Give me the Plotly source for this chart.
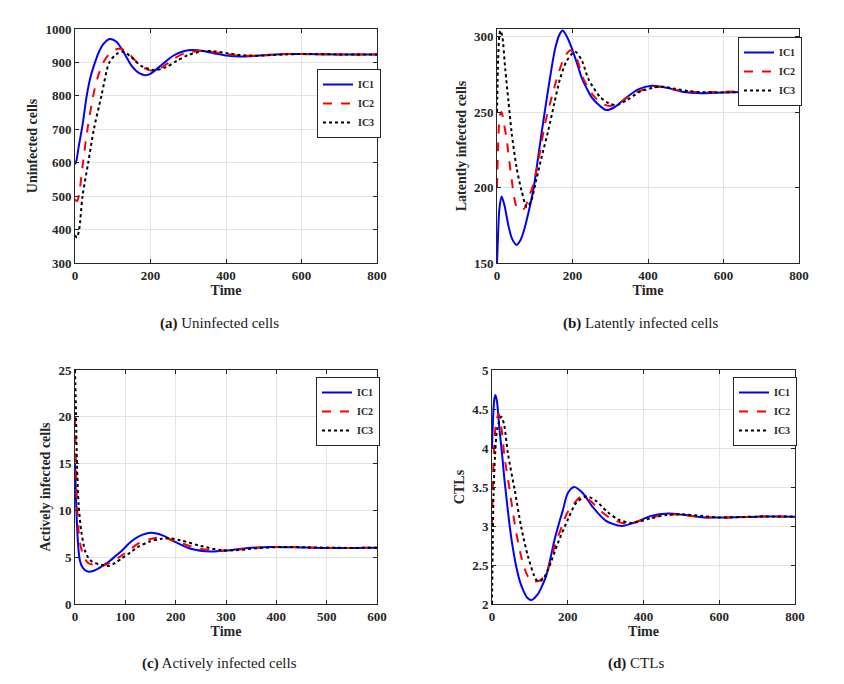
import plotly.graph_objects as go

# (a) uninfected cells
t_unf_1 = [0, 4, 9, 20, 31, 42, 53, 62, 75, 92, 110, 130, 150, 170, 186, 200, 230, 260, 290, 312, 340, 370, 400, 440, 480, 520, 560, 600, 700, 800]
v_unf_1 = [595, 607, 643, 713, 800, 860, 900, 928, 955, 970, 962, 928, 890, 868, 862, 866, 893, 920, 934, 937, 934, 927, 921, 918, 920, 923, 925, 925, 924, 924]
t_unf_2 = [0, 5, 10, 20, 33, 50, 60, 75, 95, 115, 135, 160, 185, 205, 230, 260, 290, 330, 360, 400, 440, 480, 520, 560, 600, 700, 800]
v_unf_2 = [490, 485, 500, 590, 700, 810, 855, 900, 930, 941, 935, 905, 882, 875, 885, 910, 927, 934, 932, 925, 920, 920, 923, 925, 925, 924, 924]
t_unf_3 = [0, 5, 11, 20, 35, 50, 70, 91, 110, 128, 150, 175, 210, 240, 270, 300, 340, 370, 400, 440, 480, 520, 560, 600, 700, 800]
v_unf_3 = [383, 376, 400, 500, 600, 700, 800, 900, 925, 932, 915, 890, 877, 885, 905, 922, 934, 933, 928, 922, 920, 922, 924, 925, 924, 924]

# (b) latently infected cells
t_lat_1 = [0, 3, 6, 12, 20, 30, 40, 52, 62, 72, 83, 96, 109, 118, 127, 135, 140, 154, 165, 174, 185, 197, 211, 224, 237, 250, 264, 289, 310, 335, 374, 410, 450, 490, 540, 600, 700, 800]
v_lat_1 = [150, 170, 185, 194, 188, 175, 166, 162, 165, 172, 183, 198, 220, 236, 251, 264, 272, 292, 301, 304, 300, 293, 283, 273, 266, 260, 256, 251.3, 253, 258, 265, 267.4, 266, 263.5, 262.5, 263, 263.5, 263.5]
t_lat_2 = [0, 4, 8, 12, 18, 26, 39, 52, 62, 72, 85, 96, 105, 114, 127, 145, 162, 180, 195, 210, 229, 255, 275, 299, 330, 361, 423, 480, 540, 600, 700, 800]
v_lat_2 = [200, 235, 248, 250, 243, 231, 205, 187, 185, 186, 194, 202, 212, 224, 242, 260, 275, 287, 291, 286, 272, 261, 256, 254, 257, 262.3, 266.8, 264.5, 263, 263.5, 263.5, 263.5]
t_lat_3 = [0, 3, 6, 9, 14, 22, 30, 39, 52, 65, 79, 90, 104, 118, 136, 152, 167, 185, 207, 225, 242, 273, 295, 317, 345, 379, 432, 470, 520, 580, 700, 800]
v_lat_3 = [250, 285, 300, 304, 300, 278, 258, 236, 213, 198, 187, 191, 205, 220, 238, 256, 272, 284, 290, 284, 272, 260, 256, 254.6, 258, 263.5, 266.8, 265.5, 263.5, 263, 263.5, 263.5]

# (c) actively infected cells
t_act_1 = [0, 2, 4, 7.3, 10, 14, 20, 27, 37, 47, 60, 67, 80, 93, 110, 126, 152, 175, 200, 230, 270, 300, 340, 390, 440, 500, 600]
v_act_1 = [15, 11.3, 8.4, 5.6, 4.6, 4.0, 3.6, 3.45, 3.55, 3.81, 4.27, 4.52, 5.1, 5.7, 6.6, 7.2, 7.6, 7.3, 6.6, 5.9, 5.6, 5.7, 5.95, 6.1, 6.05, 5.98, 6.0]
t_act_2 = [0, 2, 4, 7.3, 10, 14, 20, 27, 40, 54, 70, 93, 110, 126, 150, 172, 200, 240, 280, 320, 360, 400, 450, 500, 600]
v_act_2 = [20, 14.8, 10.6, 7.7, 6.5, 5.6, 4.8, 4.35, 4.15, 4.06, 4.4, 5.2, 5.85, 6.48, 6.95, 7.1, 6.7, 6.0, 5.7, 5.8, 6.0, 6.1, 6.05, 6.0, 6.0]
t_act_3 = [0, 2, 4, 7.3, 12.6, 20.5, 27, 34, 54, 67, 80, 93, 110, 126, 150, 170, 185, 210, 250, 290, 320, 360, 410, 460, 520, 600]
v_act_3 = [25, 20.2, 14.85, 10.6, 7.7, 5.6, 4.9, 4.52, 4.17, 4.06, 4.4, 4.88, 5.5, 6.12, 6.7, 6.95, 7.05, 6.8, 6.2, 5.75, 5.75, 5.95, 6.1, 6.05, 6.0, 6.0]

# (d) CTLs
t_ctl_1 = [0, 3, 6, 9, 13, 20, 27, 33, 40, 47, 55, 64, 73, 82, 93, 104, 120, 133, 143, 154, 165, 176, 187, 200, 217, 240, 265, 300, 342, 380, 420, 465, 510, 560, 620, 700, 800]
v_ctl_1 = [4.0, 4.4, 4.62, 4.68, 4.6, 4.23, 3.9, 3.59, 3.28, 2.99, 2.72, 2.48, 2.3, 2.18, 2.08, 2.05, 2.12, 2.24, 2.36, 2.58, 2.82, 3.02, 3.2, 3.42, 3.5, 3.42, 3.25, 3.07, 3.0, 3.05, 3.13, 3.16, 3.14, 3.11, 3.11, 3.12, 3.12]
t_ctl_2 = [0, 2, 5, 10, 17.6, 25, 33, 46.6, 60, 77, 95, 108, 125, 143, 155, 165, 187, 200, 237, 260, 290, 320, 355, 400, 440, 475, 520, 570, 640, 700, 800]
v_ctl_2 = [3.0, 3.5, 3.95, 4.3, 4.44, 4.25, 3.89, 3.46, 3.03, 2.61, 2.35, 2.29, 2.3, 2.39, 2.55, 2.73, 3.03, 3.18, 3.38, 3.32, 3.18, 3.08, 3.03, 3.08, 3.13, 3.15, 3.13, 3.11, 3.11, 3.12, 3.12]
t_ctl_3 = [0, 2, 4, 8, 14, 24.6, 32, 42, 60, 77, 95, 117, 126, 136, 148, 174, 200, 223, 250, 275, 305, 335, 370, 420, 460, 500, 550, 600, 700, 800]
v_ctl_3 = [2.0, 2.8, 3.4, 3.9, 4.25, 4.4, 4.3, 3.93, 3.46, 2.99, 2.61, 2.31, 2.29, 2.33, 2.44, 2.78, 3.08, 3.3, 3.38, 3.32, 3.18, 3.08, 3.04, 3.1, 3.14, 3.15, 3.13, 3.11, 3.12, 3.12]

ic_names = ["IC1", "IC2", "IC3"]
ic_colors = ["#0000ff", "#ff0000", "#000000"]
ic_dash = ["solid", "dash", "dot"]

# page body has an 8px margin, so the figure is a bit smaller than the window
W, H, PAD = 828, 668, 8


def fx(px):
    return (px - PAD) / W


def fy(px):
    return 1 - (px - PAD) / H


panels = [
    dict(series=[(t_unf_1, v_unf_1), (t_unf_2, v_unf_2), (t_unf_3, v_unf_3)],
         ylabel="Uninfected cells", xrange=[0, 800], xdtick=200, yrange=[300, 1000], ydtick=100,
         box=(75, 377, 29, 263), leg=(317, 69),
         cap="<b>(a)</b> Uninfected cells", cap_at=(219, 323)),
    dict(series=[(t_lat_1, v_lat_1), (t_lat_2, v_lat_2), (t_lat_3, v_lat_3)],
         ylabel="Latently infected cells", xrange=[0, 800], xdtick=200, yrange=[150, 305], ydtick=50,
         box=(497, 799, 29, 263), leg=(738, 37),
         cap="<b>(b)</b> Latently infected cells", cap_at=(641, 323)),
    dict(series=[(t_act_1, v_act_1), (t_act_2, v_act_2), (t_act_3, v_act_3)],
         ylabel="Actively infected cells", xrange=[0, 600], xdtick=100, yrange=[0, 25], ydtick=5,
         box=(75, 377, 370, 604), leg=(316, 377),
         cap="<b>(c)</b> Actively infected cells", cap_at=(219, 663)),
    dict(series=[(t_ctl_1, v_ctl_1), (t_ctl_2, v_ctl_2), (t_ctl_3, v_ctl_3)],
         ylabel="CTLs", xrange=[0, 800], xdtick=200, yrange=[2, 5], ydtick=0.5,
         box=(492, 795, 370, 604), leg=(733, 377),
         cap="<b>(d)</b> CTLs", cap_at=(636, 663)),
]

FONT = "Liberation Serif, Times New Roman, serif"
INK = "#262626"

fig = go.Figure()
layout = dict(
    width=W, height=H,
    margin=dict(l=0, r=0, t=0, b=0, autoexpand=False),
    paper_bgcolor="white", plot_bgcolor="white",
    font=dict(family=FONT, color=INK),
    annotations=[],
)

for i, p in enumerate(panels):
    k = "" if i == 0 else str(i + 1)
    legname = "legend" + k
    for j, (t, v) in enumerate(p["series"]):
        fig.add_trace(go.Scatter(
            x=t, y=v, name=ic_names[j], mode="lines",
            line=dict(color=ic_colors[j], dash=ic_dash[j], width=2, shape="spline", smoothing=0.8),
            xaxis="x" + k, yaxis="y" + k, legend=legname,
        ))

    x0, x1, y0, y1 = p["box"]
    axis_common = dict(
        showline=True, linecolor=INK, linewidth=1, mirror="ticks",
        ticks="inside", ticklen=4, tickcolor=INK,
        showgrid=True, gridcolor="#e3e3e3", gridwidth=1, zeroline=False,
        automargin=False,
        tickfont=dict(family=FONT, size=13, color=INK, weight="bold"),
    )
    layout["xaxis" + k] = dict(
        axis_common, domain=[fx(x0), fx(x1)], range=p["xrange"], dtick=p["xdtick"], tick0=0,
        anchor="y" + k,
        title=dict(text="Time", standoff=2, font=dict(family=FONT, size=14, weight="bold")),
    )
    layout["yaxis" + k] = dict(
        axis_common, domain=[fy(y1), fy(y0)], range=p["yrange"], dtick=p["ydtick"], tick0=0,
        anchor="x" + k,
        title=dict(text=p["ylabel"], standoff=4, font=dict(family=FONT, size=14, weight="bold")),
    )
    layout[legname] = dict(
        x=fx(p["leg"][0]), y=fy(p["leg"][1]), xanchor="left", yanchor="top",
        bgcolor="white", bordercolor=INK, borderwidth=1,
        font=dict(family=FONT, size=10, color=INK, weight="bold"),
        tracegroupgap=0, itemwidth=30,
    )
    layout["annotations"].append(dict(
        text=p["cap"], x=fx(p["cap_at"][0]), y=fy(p["cap_at"][1]), xref="paper", yref="paper",
        showarrow=False, xanchor="center", yanchor="middle",
        font=dict(family=FONT, size=15, color="#1a1a1a"),
    ))

fig.update_layout(layout)
fig.write_html("out.html")
